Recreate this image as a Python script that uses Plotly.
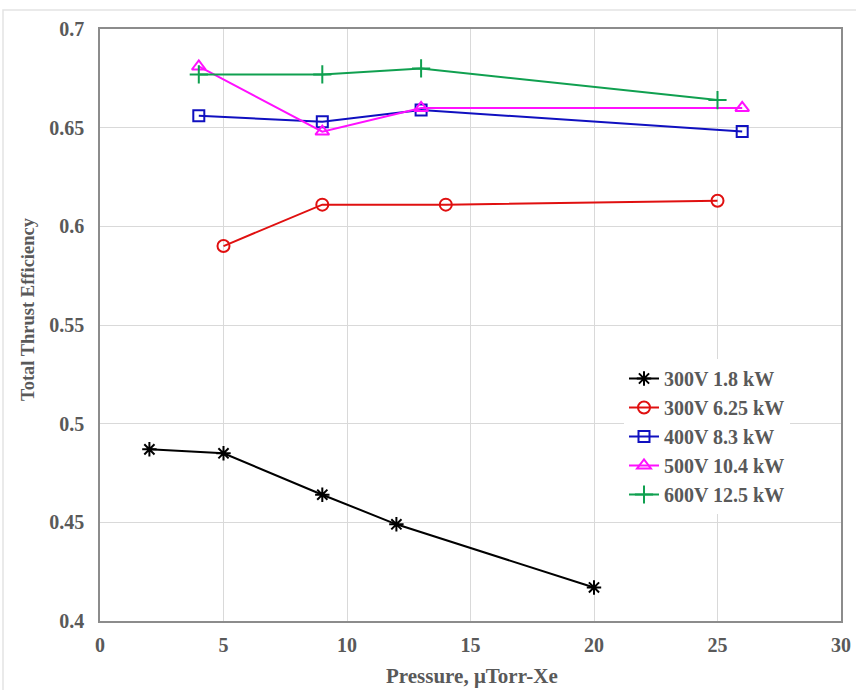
import plotly.graph_objects as go

# Data
x_300_18 = [2, 5, 9, 12, 20]
y_300_18 = [0.487, 0.485, 0.464, 0.449, 0.417]

x_300_625 = [5, 9, 14, 25]
y_300_625 = [0.590, 0.611, 0.611, 0.613]

x_400_83 = [4, 9, 13, 26]
y_400_83 = [0.656, 0.653, 0.659, 0.648]

x_500_104 = [4, 9, 13, 26]
y_500_104 = [0.681, 0.648, 0.660, 0.660]

x_600_125 = [4, 9, 13, 25]
y_600_125 = [0.677, 0.677, 0.680, 0.664]

names = ["300V 1.8 kW", "300V 6.25 kW", "400V 8.3 kW", "500V 10.4 kW", "600V 12.5 kW"]
xs = [x_300_18, x_300_625, x_400_83, x_500_104, x_600_125]
ys = [y_300_18, y_300_625, y_400_83, y_500_104, y_600_125]
colors = ["#000000", "#e01010", "#1010c0", "#ff10ff", "#10a050"]
symbols = ["asterisk-open", "circle-open", "square-open", "triangle-up-open", "cross-thin-open"]
sizes = [12, 12, 11, 12, 13]

FONT = "Liberation Serif"
GRAY = "#595959"

fig = go.Figure()
for x, y, n, c, s, sz in zip(xs, ys, names, colors, symbols, sizes):
    fig.add_trace(go.Scatter(
        x=x, y=y, name=n, mode="lines+markers",
        line=dict(color=c, width=2),
        marker=dict(symbol=s, size=sz, color=c, line=dict(color=c, width=2)),
    ))

L, R, T, B = 100, 15, 29, 69
W, H = 856, 690
pw, ph = W - L - R, H - T - B

fig.update_layout(
    width=W, height=H,
    margin=dict(l=L, r=R, t=T, b=B, autoexpand=False),
    paper_bgcolor="white", plot_bgcolor="white",
    font=dict(family=FONT, color=GRAY, size=16),
    showlegend=True,
    legend=dict(
        x=(624 - L) / pw, y=(621 - 359) / ph, xanchor="left", yanchor="top",
        font=dict(family=FONT, size=20, color=GRAY, weight="bold"),
        bgcolor="rgba(255,255,255,1)", tracegroupgap=0, itemwidth=30,
    ),
    xaxis=dict(
        range=[0, 30], dtick=5, tick0=0, automargin=False,
        showgrid=True, gridcolor="#d9d9d9", gridwidth=1,
        showline=True, linecolor="#8c8c8c", linewidth=1.5, mirror=True,
        zeroline=False, ticks="", ticklabelstandoff=5,
        tickfont=dict(family=FONT, size=20, color=GRAY, weight="bold"),
    ),
    yaxis=dict(
        range=[0.4, 0.7], dtick=0.05, tick0=0.4, automargin=False,
        showgrid=True, gridcolor="#d9d9d9", gridwidth=1,
        showline=True, linecolor="#8c8c8c", linewidth=1.5, mirror=True,
        zeroline=False, ticks="", tickformat="~g", ticklabelstandoff=10,
        tickfont=dict(family=FONT, size=20, color=GRAY, weight="bold"),
    ),
    annotations=[
        dict(text="Total Thrust Efficiency", textangle=-90,
             xref="paper", yref="paper", x=(28 - L) / pw, y=(621 - 309) / ph,
             xanchor="center", yanchor="middle", showarrow=False,
             font=dict(family=FONT, size=18.5, color=GRAY, weight="bold")),
        dict(text="Pressure, μTorr-Xe",
             xref="paper", yref="paper", x=(472 - L) / pw, y=(621 - 676) / ph,
             xanchor="center", yanchor="middle", showarrow=False,
             font=dict(family=FONT, size=21, color=GRAY, weight="bold")),
    ],
)

# faint outer frame of the original image
fig.add_shape(type="rect", xref="paper", yref="paper",
              x0=(3 - L) / pw, x1=(870 - L) / pw,
              y0=(621 - 700) / ph, y1=(621 - 10) / ph,
              line=dict(color="#e3e3e3", width=1.5), layer="below")

fig.write_html("out.html", config={"displayModeBar": False},
               post_script="document.body.style.margin='0';")
